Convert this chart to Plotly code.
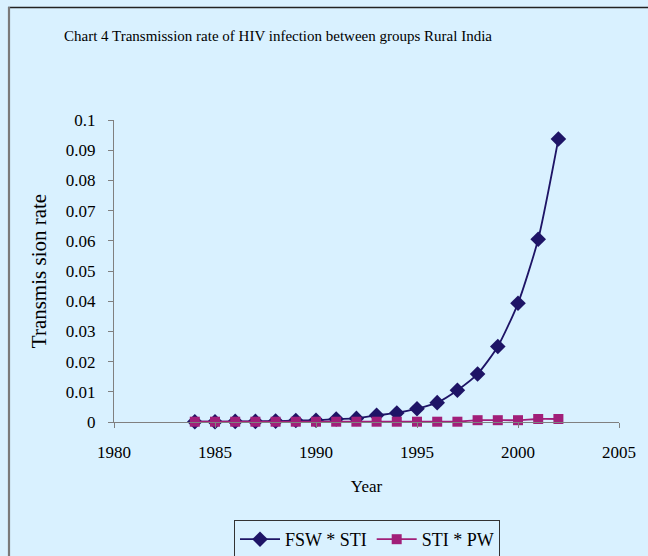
import plotly.graph_objects as go

years = list(range(1984, 2003))
fsw_sti = [0.0001, 0.0001, 0.0002, 0.0002, 0.0003, 0.0005, 0.0006, 0.0010, 0.0012, 0.0022,
           0.0030, 0.0044, 0.0064, 0.0105, 0.0159, 0.0250, 0.0393, 0.0605, 0.0937]
sti_pw = [0.0001, 0.0001, 0.0001, 0.0001, 0.0001, 0.0001, 0.0001, 0.0001, 0.0001, 0.0001,
          0.0001, 0.0001, 0.0001, 0.0001, 0.0006, 0.0006, 0.0006, 0.0010, 0.0010]
x_ticks = [1980, 1985, 1990, 1995, 2000, 2005]
y_ticks = [0, 0.01, 0.02, 0.03, 0.04, 0.05, 0.06, 0.07, 0.08, 0.09, 0.1]
y_labels = ["0", "0.01", "0.02", "0.03", "0.04", "0.05", "0.06", "0.07", "0.08", "0.09", "0.1"]

BG = "#D9F1FF"
FONT = "Liberation Serif"
W, H = 648, 556
L, R, T, B = 114, 29, 120, 134
PW, PH = W - L - R, H - T - B


def px_x(x):
    return (x - L) / PW


def px_y(y):
    return (T + PH - y) / PH


fig = go.Figure()
fig.add_trace(go.Scatter(
    x=years, y=fsw_sti, name="FSW * STI", mode="lines+markers",
    line=dict(color="#1E1466", width=1.8, shape="spline", smoothing=0.6),
    marker=dict(symbol="diamond", size=12, color="#1E1466"),
    cliponaxis=False,
))
fig.add_trace(go.Scatter(
    x=years, y=sti_pw, name="STI * PW", mode="lines+markers",
    line=dict(color="#A11F79", width=1.8, shape="spline", smoothing=0.6),
    marker=dict(symbol="square", size=10, color="#A11F79"),
    cliponaxis=False,
))

fig.update_layout(
    width=W, height=H,
    margin=dict(l=L, r=R, t=T, b=B, autoexpand=False),
    paper_bgcolor=BG, plot_bgcolor=BG,
    font=dict(family=FONT, size=17, color="#000000"),
    title=dict(text="Chart 4 Transmission rate of HIV infection between groups Rural India",
               x=278 / W, xanchor="center", y=1 - 36 / H, yanchor="middle",
               font=dict(family=FONT, size=15)),
    showlegend=True,
    legend=dict(orientation="h", x=px_x(367), xanchor="center", y=px_y(520), yanchor="top",
                bgcolor=BG, bordercolor="#333333", borderwidth=1,
                font=dict(family=FONT, size=18), itemwidth=40),
    shapes=[
        dict(type="line", xref="paper", yref="paper",
             x0=px_x(8), x1=px_x(648), y0=px_y(7.5), y1=px_y(7.5),
             line=dict(color="#222222", width=1.5)),
        dict(type="line", xref="paper", yref="paper",
             x0=px_x(9), x1=px_x(9), y0=px_y(7), y1=px_y(556),
             line=dict(color="#7A7A7A", width=2.2)),
    ],
)
fig.update_xaxes(
    range=[1980, 2005], tickvals=x_ticks, showgrid=False, zeroline=False,
    showline=True, linecolor="#808080", linewidth=1,
    ticks="outside", ticklen=5, tickcolor="#808080",
    ticklabelstandoff=10,
    title=dict(text="Year", standoff=18, font=dict(family=FONT, size=17)),
)
fig.update_yaxes(
    range=[0, 0.1], tickvals=y_ticks, ticktext=y_labels, showgrid=False, zeroline=False,
    showline=True, linecolor="#808080", linewidth=1,
    ticks="outside", ticklen=5, tickcolor="#808080",
    ticklabelstandoff=9,
    title=dict(text="Transmis sion rate", standoff=13, font=dict(family=FONT, size=21)),
)

fig.write_html(
    "out.html",
    config={"displayModeBar": False},
    post_script="document.body.style.margin='0';document.body.style.background='%s';" % BG,
)
